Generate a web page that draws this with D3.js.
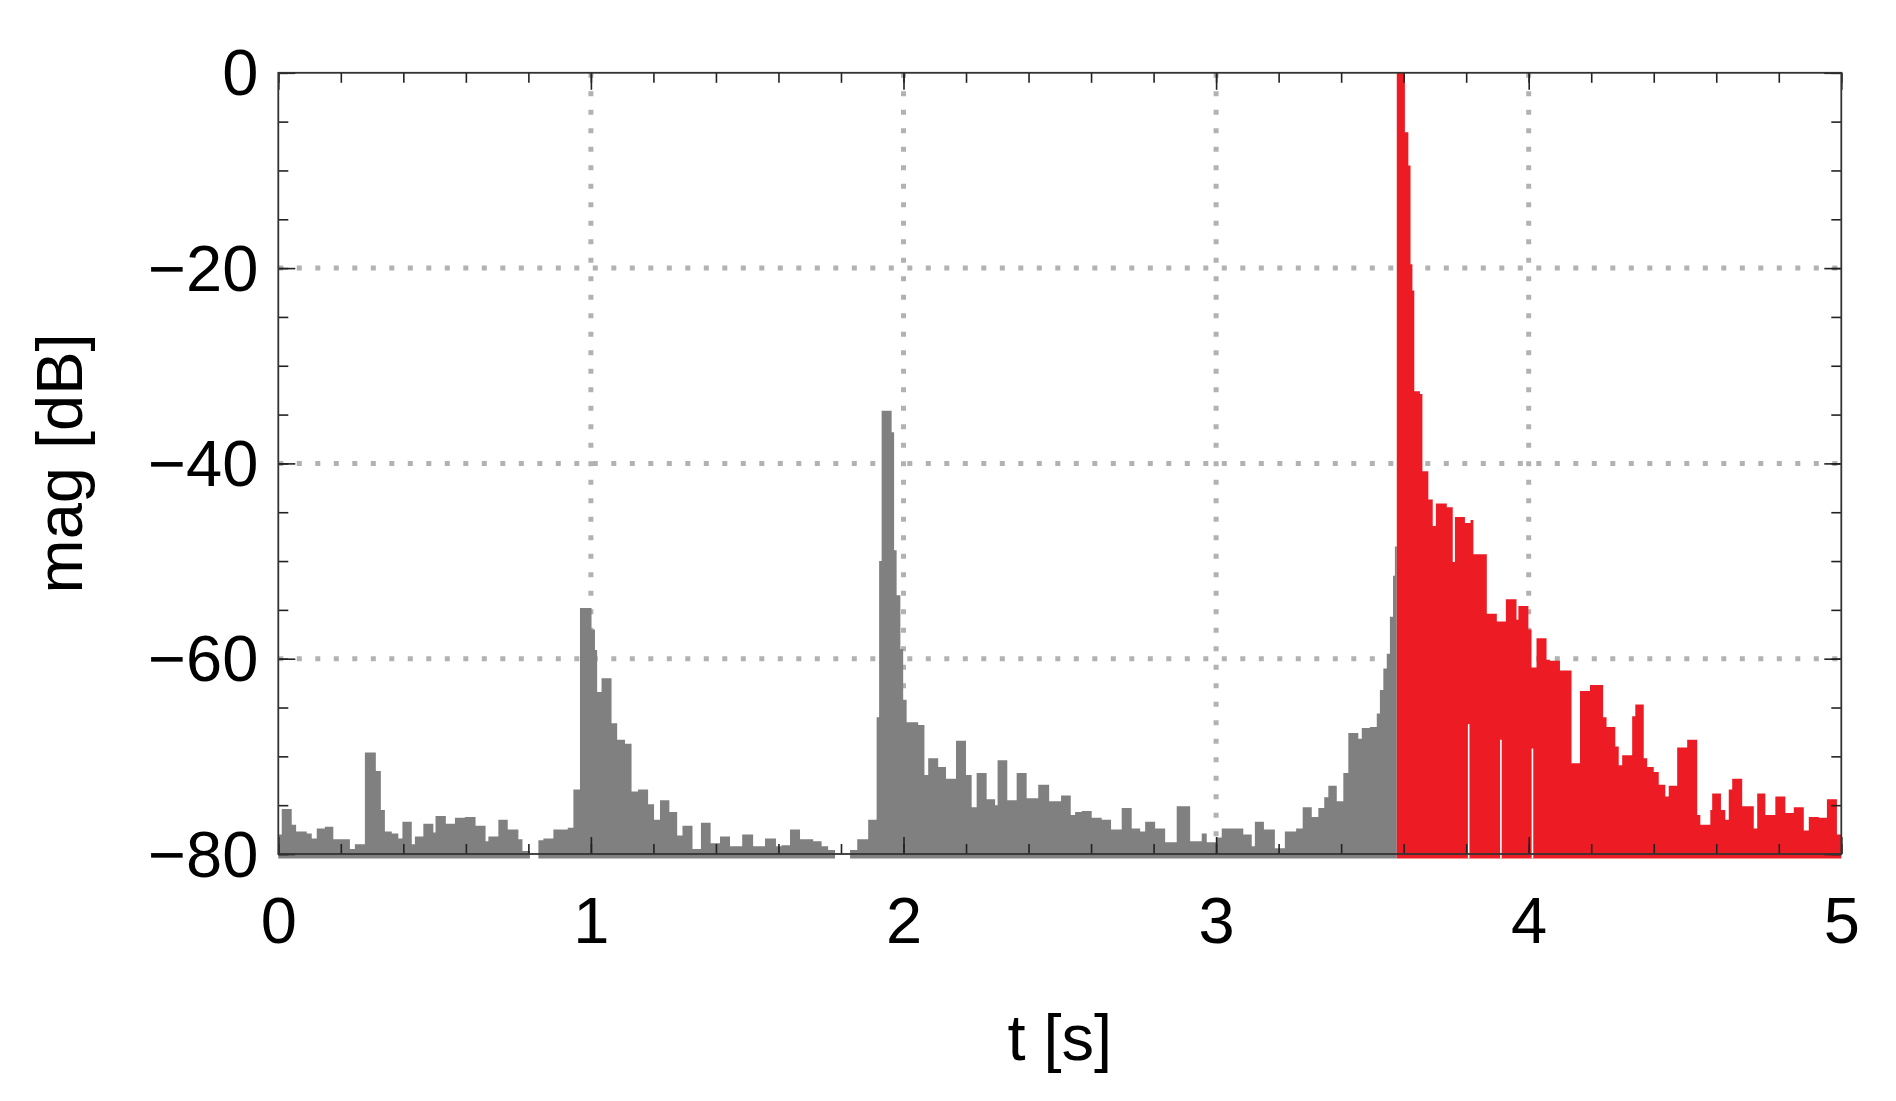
<!DOCTYPE html>
<html>
<head>
    <meta charset="UTF-8">
    <title>mag [dB] over t [s]</title>
    <script src="https://d3js.org/d3.v7.min.js"></script>
    <style>
        body{
            margin: 0;
            background-color: #ffffff;
        }
        text{
            font-family: "Liberation Sans", Arial, sans-serif;
            fill: #000;
        }
    </style>
</head>
<body>
    <div id="chart"></div>

    <script>
        // step starts [s] and levels [dB]
        const grayT = [0.000, 0.011, 0.043, 0.057, 0.091, 0.107, 0.123, 0.149, 0.176, 0.229, 0.245, 0.277, 0.312, 0.328, 0.341, 0.363, 0.384, 0.397, 0.427, 0.437, 0.464, 0.496, 0.503, 0.536, 0.565, 0.597, 0.631, 0.663, 0.672, 0.704, 0.734, 0.768, 0.781, 0.805, 0.832, 0.848, 0.880, 0.926, 0.944, 0.965,
            1.002, 1.013, 1.020, 1.034, 1.066, 1.084, 1.109, 1.130, 1.151, 1.183, 1.202, 1.221, 1.251, 1.276, 1.293, 1.325, 1.352, 1.383, 1.413, 1.445, 1.484, 1.519, 1.557, 1.592, 1.610, 1.637, 1.669, 1.711, 1.738, 1.759, 1.781, 1.829, 1.852, 1.887, 1.914, 1.922,
            1.930, 1.962, 1.970, 1.978, 1.990, 1.999, 2.010, 2.047, 2.067, 2.079, 2.111, 2.136, 2.168, 2.200, 2.218, 2.234, 2.266, 2.293, 2.301, 2.332, 2.362, 2.394, 2.431, 2.466, 2.504, 2.535, 2.549, 2.570, 2.602, 2.634, 2.664, 2.698, 2.730, 2.757, 2.773, 2.805, 2.837, 2.874, 2.917, 2.954,
            2.970, 3.000, 3.018, 3.087, 3.114, 3.124, 3.153, 3.188, 3.220, 3.256, 3.277, 3.306, 3.327, 3.346, 3.359, 3.386, 3.407, 3.423, 3.455, 3.466, 3.492, 3.514, 3.524, 3.535, 3.546, 3.556, 3.566, 3.572];
        const grayDb = [-78.0, -75.4, -77.0, -77.7, -77.9, -78.4, -77.4, -77.2, -78.5, -79.5, -79.0, -69.6, -71.5, -75.5, -77.7, -77.9, -78.4, -76.7, -79.0, -78.2, -76.9, -77.8, -76.1, -76.9, -76.3, -76.2, -77.1, -78.7, -78.2, -76.5, -77.5, -78.5, -79.7, -85, -78.6, -78.4, -77.5, -77.3, -73.4, -54.8,
            -57.0, -59.1, -63.4, -62.0, -66.6, -68.3, -68.7, -73.6, -73.4, -74.9, -76.5, -74.5, -75.7, -78.1, -77.1, -79.5, -76.8, -78.9, -78.2, -79.2, -78.0, -79.2, -78.4, -79.2, -79.1, -77.5, -78.5, -78.7, -79.2, -79.6, -85, -79.6, -78.5, -76.5, -66.0, -50.0,
            -34.6, -36.8, -48.9, -53.5, -59.0, -64.2, -66.5, -66.8, -71.9, -70.2, -71.1, -72.3, -68.4, -71.9, -75.2, -71.7, -74.4, -75.0, -70.4, -74.5, -71.7, -74.3, -72.9, -74.6, -74.0, -76.0, -75.7, -75.6, -76.3, -76.5, -77.5, -75.3, -77.4, -77.7, -76.7, -77.4, -78.8, -75.1, -78.7, -77.9,
            -78.8, -78.3, -77.4, -78.0, -79.2, -76.7, -77.5, -79.4, -77.7, -77.4, -75.2, -76.2, -75.3, -74.2, -73.0, -74.6, -71.7, -67.6, -68.2, -67.1, -67.0, -65.6, -63.2, -61.0, -59.5, -55.7, -51.5, -48.5];

        const redT = [3.578, 3.604, 3.615, 3.622, 3.628, 3.634, 3.652, 3.660, 3.679, 3.693, 3.703, 3.738, 3.757, 3.764, 3.796, 3.814, 3.823, 3.866, 3.898, 3.927, 3.961, 3.967, 3.999, 4.009, 4.025, 4.057, 4.068, 4.100, 4.137, 4.164, 4.196,
            4.238, 4.249, 4.277, 4.288, 4.299, 4.331, 4.341, 4.368, 4.379, 4.400, 4.416, 4.437, 4.448, 4.475, 4.507, 4.539, 4.549, 4.581, 4.587, 4.615, 4.629, 4.640, 4.651, 4.683, 4.720, 4.731, 4.757, 4.789, 4.821, 4.848, 4.880, 4.896, 4.928, 4.954, 4.986];
        const redDb = [0, -6.1, -9.5, -19.6, -22.3, -32.6, -32.9, -40.8, -43.7, -46.4, -44.1, -44.5, -50.1, -45.5, -46.1, -45.8, -49.3, -55.4, -56.2, -53.9, -56.0, -54.6, -57.0, -60.9, -57.9, -60.1, -60.2, -61.2, -70.7, -63.3, -62.7,
            -66.0, -67.0, -69.0, -70.9, -69.9, -65.9, -64.7, -70.2, -71.1, -71.6, -72.9, -74.1, -73.0, -69.1, -68.3, -76.0, -77.0, -75.5, -73.8, -75.5, -76.5, -73.4, -72.3, -75.1, -77.4, -73.8, -76.0, -74.1, -75.8, -75.2, -77.6, -76.2, -76.3, -74.4, -78.0];

        // thin drop-outs inside the red part
        const notchT = [3.808, 3.911, 4.012];
        const notchTop = [-66.7, -68.3, -69.2];

        const xTicks = [0, 1, 2, 3, 4, 5];
        const yTicks = [-80, -60, -40, -20, 0];
        const tMax = 5;
        const floorDb = -80.45;

        const width = 1896;
        const height = 1101;
        const margin = { top: 72.8, right: 54.7, bottom: 247, left: 278.3 };
        const fontSize = 65;

        const svg = d3.select("#chart")
            .append("svg")
            .attr("width", width)
            .attr("height", height);

        const x = d3.scaleLinear()
            .domain([0, tMax])
            .range([margin.left, width - margin.right]);

        const y = d3.scaleLinear()
            .domain([-80, 0])
            .range([height - margin.bottom, margin.top]);

        const x0 = x.range()[0], x1 = x.range()[1];
        const y0 = y.range()[0], y1 = y.range()[1];

        // dotted grid
        const grid = svg.append("g")
            .attr("stroke", "#b2b2b2")
            .attr("stroke-width", 5)
            .attr("stroke-dasharray", "5,13.5");

        grid.selectAll(".gx")
            .data(xTicks.slice(1, -1))
            .enter()
            .append("line")
            .attr("x1", d => x(d)).attr("x2", d => x(d))
            .attr("y1", y1).attr("y2", y0);

        grid.selectAll(".gy")
            .data(yTicks.slice(1, -1))
            .enter()
            .append("line")
            .attr("x1", x0).attr("x2", x1)
            .attr("y1", d => y(d)).attr("y2", d => y(d));

        // filled step areas
        const gray = grayT.map((t, i) => ({ t: t, v: grayDb[i] }));
        gray.push({ t: redT[0], v: grayDb[grayDb.length - 1] });
        const red = redT.map((t, i) => ({ t: t, v: redDb[i] }));
        red.push({ t: tMax, v: redDb[redDb.length - 1] });

        const area = d3.area()
            .x(d => x(d.t))
            .y0(y(floorDb))
            .y1(d => y(Math.max(d.v, floorDb)))
            .curve(d3.curveStepAfter);

        svg.append("path")
            .datum(gray)
            .attr("d", area)
            .attr("fill", "#808080");

        svg.append("path")
            .datum(red)
            .attr("d", area)
            .attr("fill", "#ed1c24");

        svg.selectAll(".notch")
            .data(notchT)
            .enter()
            .append("line")
            .attr("x1", d => x(d)).attr("x2", d => x(d))
            .attr("y1", y(floorDb))
            .attr("y2", (d, i) => y(notchTop[i]))
            .attr("stroke", "#fff")
            .attr("stroke-width", 1.6);

        // frame ticks, pointing inwards on all four sides
        const minorX = d3.range(0, tMax + 0.001, 0.2).map(d => +d.toFixed(1));
        const minorY = d3.range(-80, 0.1, 5);
        const fmt = d3.format("d");

        function ticks(axis, values, size, label) {
            const a = axis.tickValues(values).tickSize(-size).tickSizeOuter(0);
            a.tickFormat(label ? fmt : "");
            return a;
        }

        const minorAxes = [
            [d3.axisBottom(x), `translate(0,${y0})`, minorX],
            [d3.axisTop(x), `translate(0,${y1})`, minorX],
            [d3.axisLeft(y), `translate(${x0},0)`, minorY],
            [d3.axisRight(y), `translate(${x1},0)`, minorY]
        ];

        minorAxes.forEach(([axis, tr, minor]) => {
            svg.append("g")
                .attr("transform", tr)
                .call(ticks(axis, minor, 10, false))
                .call(g => g.select(".domain").remove())
                .selectAll("line").attr("stroke", "#222").attr("stroke-width", 1.6);
        });

        function majorAxis(axis, tr, values, label, pad) {
            const g = svg.append("g")
                .attr("transform", tr)
                .call(ticks(axis, values, 17, label).tickPadding(pad))
                .call(g => g.select(".domain").remove());
            g.selectAll("line").attr("stroke", "#222").attr("stroke-width", 1.6);
            g.selectAll("text")
                .style("font-family", "'Liberation Sans', Arial, sans-serif")
                .style("font-size", fontSize + "px")
                .attr("fill", "#000");
            return g;
        }

        majorAxis(d3.axisBottom(x), `translate(0,${y0})`, xTicks, true, 43);
        majorAxis(d3.axisTop(x), `translate(0,${y1})`, xTicks, false, 0);
        majorAxis(d3.axisLeft(y), `translate(${x0},0)`, yTicks, true, 20)
            .selectAll("text").attr("dy", "0.34em");
        majorAxis(d3.axisRight(y), `translate(${x1},0)`, yTicks, false, 0);

        svg.append("rect")
            .attr("x", x0).attr("y", y1)
            .attr("width", x1 - x0).attr("height", y0 - y1)
            .attr("fill", "none")
            .attr("stroke", "#333")
            .attr("stroke-width", 1.8);

        // axis titles
        svg.append("text")
            .attr("x", (x0 + x1) / 2)
            .attr("y", 1060)
            .attr("text-anchor", "middle")
            .style("font-size", fontSize + "px")
            .text("t [s]");

        svg.append("text")
            .attr("transform", `translate(82,${(y0 + y1) / 2}) rotate(-90)`)
            .attr("text-anchor", "middle")
            .style("font-size", fontSize + "px")
            .text("mag [dB]");
    </script>
</body>
</html>
